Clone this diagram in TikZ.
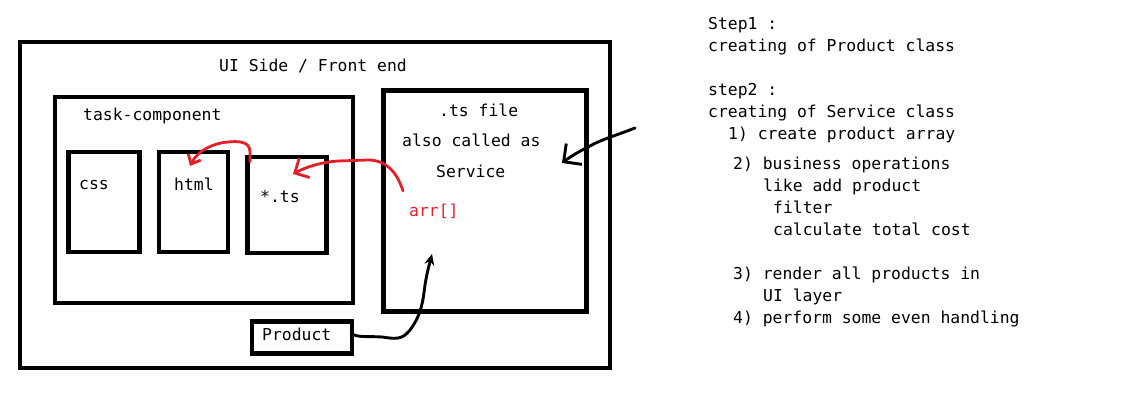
\documentclass[tikz,border=0pt]{standalone}
\usepackage{fontspec}
\setmonofont{DejaVu Sans Mono}
\usetikzlibrary{arrows.meta}
\definecolor{penred}{RGB}{230,30,40}
\begin{document}
\begin{tikzpicture}[x=1pt,y=-1pt,
  box/.style={draw=black,line width=4.3pt,rectangle,inner sep=0pt},
  txt/.style={font=\ttfamily\fontsize{16.4}{20}\selectfont,inner sep=0pt,anchor=base west},
  redpen/.style={draw=penred,line width=2.8pt,line cap=round,line join=round},
  blackpen/.style={draw=black,line width=2.9pt,line cap=round,line join=round}]
\useasboundingbox (0,0) rectangle (1123,411);
% boxes
\node[box,minimum width=590pt,minimum height=326pt] (outer) at (315,205) {};
\node[box,minimum width=298pt,minimum height=206pt] (task) at (204,200) {};
\node[box,minimum width=71pt,minimum height=100pt] (css) at (104,202) {};
\node[box,minimum width=69pt,minimum height=100pt] (html) at (193.5,202) {};
\node[box,minimum width=79pt,minimum height=96pt] (ts) at (287,205) {};
\node[box,minimum width=203pt,minimum height=221pt] (service) at (485,201) {};
\node[box,minimum width=100pt,minimum height=32pt] (product) at (302,337.5) {};
% texts
\node[txt] (uiside) at (219,71.5) {UI Side / Front end};
\node[txt] (tasklbl) at (83,120.5) {task-component};
\node[txt] (csslbl) at (79,190) {css};
\node[txt] (htmllbl) at (174,190.5) {html};
\node[txt] (tslbl) at (260,202.5) {*.ts};
\node[txt] (tsfile) at (439,116.5) {.ts file};
\node[txt] (also) at (402,146.5) {also called as};
\node[txt] (servlbl) at (436,177.5) {Service};
\node[txt,text=penred] (arr) at (409,217) {arr[]};
\node[txt] (prodlbl) at (262,340.5) {Product};
% right notes
\node[txt] (s1) at (708,30) {Step1 :};
\node[txt] (s1b) at (708,51.5) {creating of Product class};
\node[txt] (s2) at (708,96) {step2 :};
\node[txt] (s2b) at (708,117.5) {creating of Service class};
\node[txt] (n1) at (728,139.5) {1) create product array};
\node[txt] (n2) at (733,169.5) {2) business operations};
\node[txt] (n2b) at (763,191.5) {like add product};
\node[txt] (n2c) at (773,213.5) {filter};
\node[txt] (n2d) at (773,235.5) {calculate total cost};
\node[txt] (n3) at (733,279.5) {3) render all products in};
\node[txt] (n3b) at (763,301.5) {UI layer};
\node[txt] (n4) at (733,323.5) {4) perform some even handling};
% connector end points
\coordinate (arrStart) at (403,191);
\coordinate (tsTip) at (293,174);
\coordinate (tsTop) at (250,162);
\coordinate (htmlTip) at (190,166);
\coordinate (prodStart) at (351,333);
\coordinate (servBottom) at (432,254);
\coordinate (freeStart) at (635,128);
\coordinate (servRight) at (562,163);
% red arrows
\draw[redpen,-{Straight Barb[length=11pt,width=22pt,line width=2.8pt]}]
  (arrStart) .. controls (397,172) and (386,160) .. (368,160)
  -- (338,161) .. controls (322,162) and (306,167) .. (tsTip);
\draw[redpen,-{Straight Barb[length=8pt,width=14pt,line width=2.8pt]}]
  (tsTop) -- (250,152) .. controls (250,141) and (238,141) .. (228,142)
  .. controls (214,143) and (198,150) .. (htmlTip);
% black arrows
\draw[blackpen,-{Stealth[length=11pt,width=10pt]}]
  (prodStart) .. controls (356,338) and (368,336) .. (382,337)
  .. controls (396,339) and (402,340) .. (410,330)
  .. controls (422,314) and (423,300) .. (425,285)
  .. controls (427,272) and (430,262) .. (servBottom);
\draw[blackpen,-{Straight Barb[length=13pt,width=26pt,line width=2.9pt]}]
  (freeStart) .. controls (620,134) and (600,140) .. (590,146)
  .. controls (578,152) and (570,157) .. (servRight);
\end{tikzpicture}
\end{document}
